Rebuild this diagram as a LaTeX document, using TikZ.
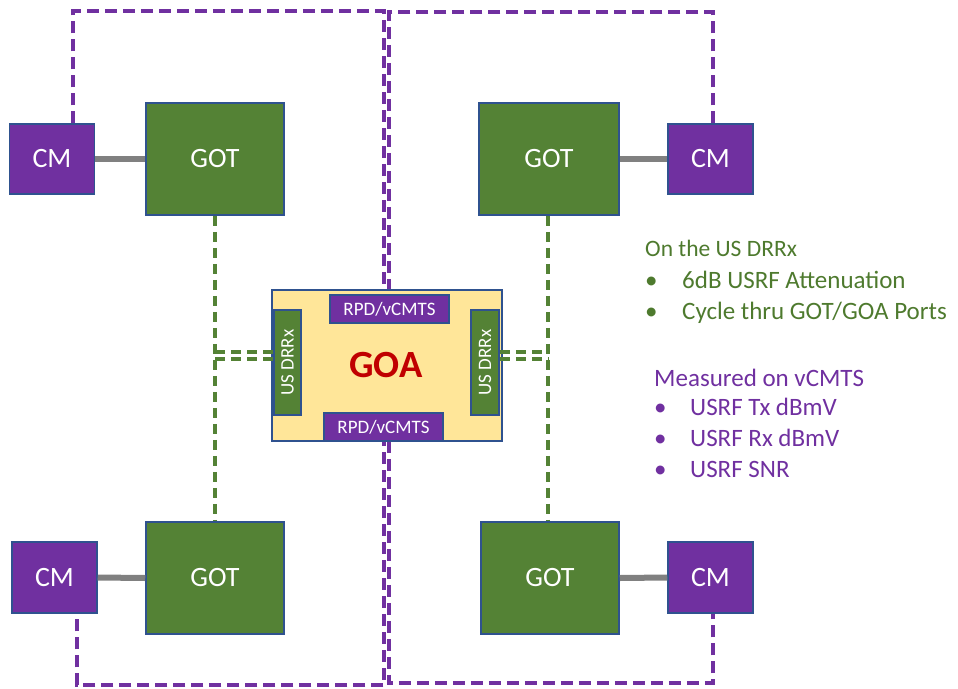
\documentclass[tikz,border=0pt]{standalone}
\usepackage{fontspec}
\setmainfont{Carlito}
\definecolor{cmpurple}{HTML}{7030A0}
\definecolor{gotgreen}{HTML}{548235}
\definecolor{edgeblue}{HTML}{2F528F}
\definecolor{goafill}{HTML}{FFE699}
\definecolor{goared}{HTML}{C00000}
\definecolor{linkgray}{HTML}{808080}
\definecolor{notegreen}{HTML}{4E7A2E}
\tikzset{
  box/.style={draw=edgeblue, line width=1.5pt, inner sep=0pt, text=white},
  cmbox/.style={box, fill=cmpurple, minimum width=85pt, minimum height=70pt, font=\fontsize{28}{32}\selectfont},
  gotbox/.style={box, fill=gotgreen, minimum width=138pt, minimum height=112pt, font=\fontsize{28}{32}\selectfont},
  rpdbox/.style={box, fill=cmpurple, minimum width=119pt, minimum height=28pt, font=\fontsize{19}{22}\selectfont},
  drrxbox/.style={box, fill=gotgreen, minimum width=27pt, minimum height=105pt, font=\fontsize{19}{22}\selectfont},
  rfline/.style={draw=linkgray, line width=6pt},
  loopline/.style={draw=cmpurple, line width=3.6pt, dash pattern=on 12pt off 6pt},
  fiberline/.style={draw=gotgreen, line width=3.4pt, dash pattern=on 10pt off 6pt},
  notegrn/.style={anchor=base west, inner sep=0pt, text=notegreen, font=\fontsize{25}{29}\selectfont},
  notepur/.style={anchor=base west, inner sep=0pt, text=cmpurple, font=\fontsize{25}{29}\selectfont}
}
\begin{document}
\begin{tikzpicture}[x=1pt, y=-1pt]
\useasboundingbox (0,0) rectangle (958,688);

% cable modems and optical terminals
\node[cmbox]  (cmTL)  at (52,159)    {CM};
\node[gotbox] (gotTL) at (215,159)   {GOT};
\node[gotbox, minimum width=140pt] (gotTR) at (549,159) {GOT};
\node[cmbox]  (cmTR)  at (710.5,159) {CM};
\node[cmbox, minimum height=71pt] (cmBL) at (54.5,577.5) {CM};
\node[gotbox] (gotBL) at (215,578)   {GOT};
\node[gotbox] (gotBR) at (550,578)   {GOT};
\node[cmbox, minimum height=71pt] (cmBR) at (710.5,577.5) {CM};

% return-path loops (drawn behind the aggregator)
\coordinate (lA) at (73,11);
\coordinate (lB) at (384,11);
\coordinate (lC) at (384,685);
\coordinate (lD) at (77,685);
\draw[loopline] ([xshift=21pt]cmTL.north) -- (lA) -- (lB) -- (lC) -- (lD) -- ([xshift=22.5pt]cmBL.south);
\coordinate (rA) at (713,12);
\coordinate (rB) at (389,12);
\coordinate (rC) at (389,683);
\coordinate (rD) at (713,683);
\draw[loopline] ([xshift=2.5pt]cmTR.north) -- (rA) -- (rB) -- (rC) -- (rD) -- ([xshift=2.5pt]cmBR.south);

% aggregator
\node[box, fill=goafill, minimum width=230pt, minimum height=151pt] (goa) at (387,365.5) {};
\node[text=goared, font=\bfseries\fontsize{38.5}{42}\selectfont, inner sep=0pt] (goalbl) at (386,365) {GOA};
\node[rpdbox] (rpdT) at (389.5,309) {RPD/vCMTS};
\node[rpdbox] (rpdB) at (383.5,427) {RPD/vCMTS};
\node[drrxbox] (drrxL) at (287.5,362.5) {\rotatebox{90}{US DRRx}};
\node[drrxbox, minimum width=28pt] (drrxR) at (485,362.5) {\rotatebox{90}{US DRRx}};

% fiber links
\coordinate (jL1) at (215,352);
\coordinate (jL2) at (215,359);
\coordinate (jR1) at (548,352);
\coordinate (jR2) at (548,359);
\draw[fiberline] (gotTL.south) -- (gotBL.north);
\draw[fiberline] (jL1) -- ([yshift=10.5pt]drrxL.west);
\draw[fiberline] (jL2) -- ([yshift=3.5pt]drrxL.west);
\draw[fiberline] ([xshift=-1pt]gotTR.south) -- ([xshift=-2pt]gotBR.north);
\draw[fiberline] ([yshift=10.5pt]drrxR.east) -- (jR1);
\draw[fiberline] ([yshift=3.5pt]drrxR.east) -- (jR2);

% coax drops
\draw[rfline] (cmTL.east) -- (gotTL.west);
\draw[rfline] (gotTR.east) -- (cmTR.west);
\draw[rfline] (cmBL.east) -- (gotBL.west);
\draw[rfline] (gotBR.east) -- (cmBR.west);

% notes
\node[notegrn, font=\fontsize{23.5}{28}\selectfont] (n1) at (645,256) {On the US DRRx};
\node[notegrn] (n2b) at (645,288) {•};
\node[notegrn] (n2)  at (682,288) {6dB USRF Attenuation};
\node[notegrn] (n3b) at (645,319) {•};
\node[notegrn] (n3)  at (682,319) {Cycle thru GOT/GOA Ports};
\node[notepur] (m1)  at (654,386) {Measured on vCMTS};
\node[notepur] (m2b) at (654,415) {•};
\node[notepur] (m2)  at (690,415) {USRF Tx dBmV};
\node[notepur] (m3b) at (654,446) {•};
\node[notepur] (m3)  at (690,446) {USRF Rx dBmV};
\node[notepur] (m4b) at (654,477) {•};
\node[notepur] (m4)  at (690,477) {USRF SNR};
\end{tikzpicture}
\end{document}
